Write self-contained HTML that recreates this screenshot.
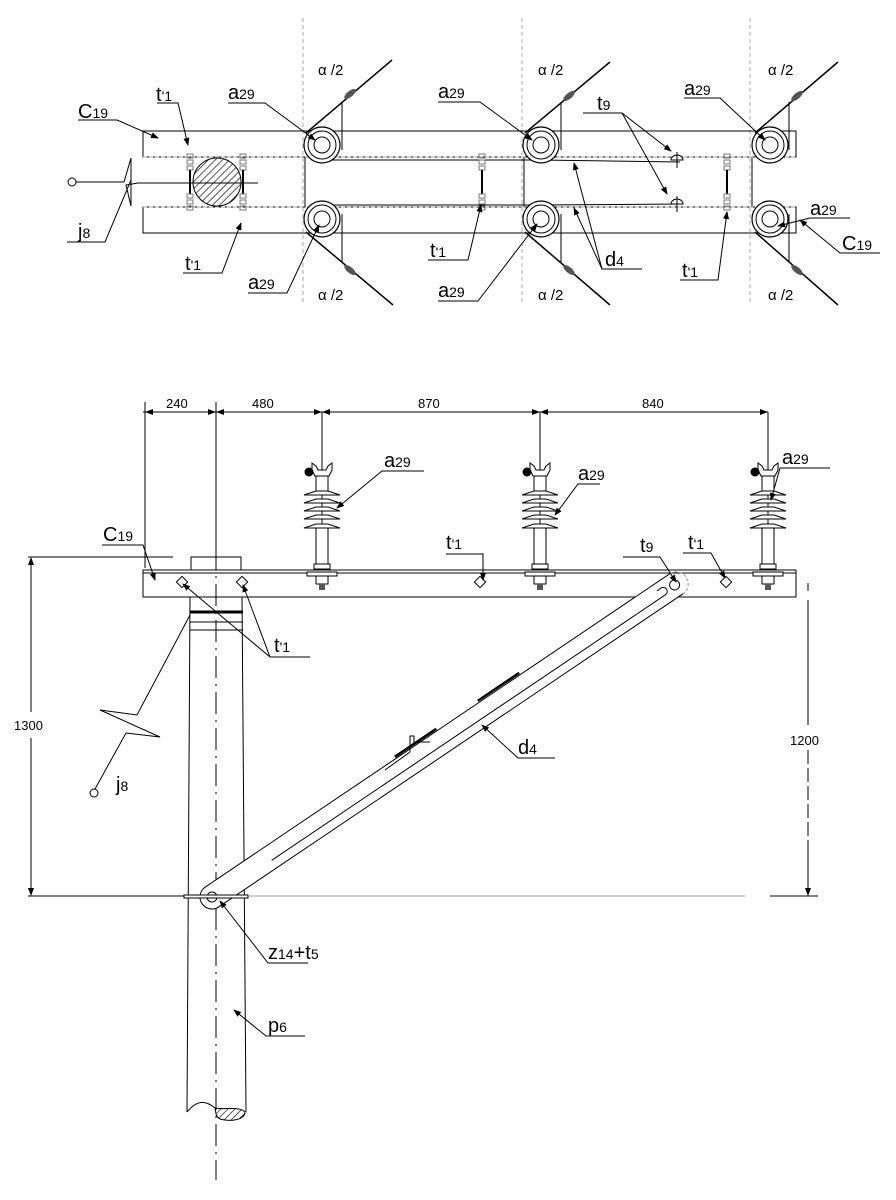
<!DOCTYPE html>
<html><head><meta charset="utf-8"><style>
html,body{margin:0;padding:0;background:#fff;}
svg{display:block;font-family:"Liberation Sans",sans-serif;}
</style></head><body>
<svg width="896" height="1200" viewBox="0 0 896 1200" xmlns="http://www.w3.org/2000/svg">
<defs>
<pattern id="h" patternUnits="userSpaceOnUse" width="5" height="5" patternTransform="rotate(45)">
<line x1="0" y1="0" x2="0" y2="5" stroke="#000" stroke-width="1.3"/></pattern>
<marker id="ar" markerWidth="8" markerHeight="6" refX="7" refY="3" orient="auto" markerUnits="userSpaceOnUse"><path d="M0,0 L8,3 L0,6z" fill="#000"/></marker>
<g id="ins">
<line x1="0" y1="412" x2="0" y2="570" stroke="#000" stroke-width="1"/>
<path d="M-10,463 L-6,466 L-4,470 L4,470 L6,466 L10,463 L10,470 L7,476 L-7,476 L-10,470z" fill="#fff" stroke="#000"/>
<circle cx="-13" cy="472" r="4.5" fill="#000"/>
<rect x="-6" y="476" width="12" height="16" fill="#fff" stroke="#000"/>
<g stroke="#000" fill="#fff">
<path d="M-18,495 L18,495 L6,491 L-6,491z"/><path d="M-18,503 L18,503 L6,499 L-6,499z"/><path d="M-18,511 L18,511 L6,507 L-6,507z"/><path d="M-18,519 L18,519 L6,515 L-6,515z"/><path d="M-18,528 L18,528 L6,524 L-6,524z"/>
</g>
<rect x="-6" y="528" width="12" height="36" fill="#fff" stroke="#000"/>
<rect x="-8" y="564" width="16" height="5" fill="#fff" stroke="#000"/>
<rect x="-15" y="572" width="30" height="4" fill="#fff" stroke="#000"/>
<rect x="-6" y="576" width="12" height="8" fill="#fff" stroke="#000"/>
<rect x="-3" y="584" width="6" height="6" fill="#555"/>
</g>
<g id="circ">
<circle r="18" fill="#fff" stroke="#000" stroke-width="1.2"/><circle r="14" fill="none" stroke="#000"/><circle r="8" fill="none" stroke="#000"/>
</g>
<g id="bolt" stroke="#777" fill="none" stroke-width="1">
<rect x="-3" y="-28" width="6" height="4"/><rect x="-3" y="-22" width="6" height="4"/><rect x="-3" y="-16" width="6" height="4"/>
<line x1="0" y1="-12" x2="0" y2="12" stroke="#000" stroke-width="2"/>
<rect x="-3" y="12" width="6" height="4"/><rect x="-3" y="18" width="6" height="4"/><rect x="-3" y="24" width="6" height="4"/>
</g>
</defs>

<g stroke="#aaa" stroke-dasharray="4,3" stroke-width="1">
<line x1="303" y1="18" x2="303" y2="305"/><line x1="522" y1="18" x2="522" y2="305"/><line x1="750" y1="18" x2="750" y2="305"/>
</g>
<g stroke="#000" fill="none" stroke-width="1">
<rect x="143" y="131" width="653" height="26" fill="none"/>
<rect x="143" y="207" width="653" height="26" fill="none"/>
<line x1="305" y1="157" x2="305" y2="207"/><line x1="524" y1="157" x2="524" y2="207"/><line x1="752" y1="157" x2="752" y2="207"/>
<line x1="540" y1="160" x2="680" y2="162"/><line x1="540" y1="205" x2="680" y2="204"/>
<line x1="322" y1="160" x2="540" y2="160"/><line x1="322" y1="205" x2="540" y2="205"/>
</g>
<g stroke="#aaa" stroke-dasharray="4,2"><line x1="143" y1="157" x2="796" y2="157"/><line x1="143" y1="207" x2="796" y2="207"/></g>
<circle cx="217" cy="182" r="24" fill="url(#h)" stroke="#000"/>
<line x1="138" y1="183" x2="258" y2="183" stroke="#000"/>
<g transform="translate(190,182)"><use href="#bolt"/></g>
<g transform="translate(243,182)"><use href="#bolt"/></g>
<g transform="translate(482,182)"><use href="#bolt"/></g>
<g transform="translate(727,182)"><use href="#bolt"/></g>
<path d="M677,152 v16 M671,160 a6,5 0 0 1 12,0z M677,196 v16 M671,204 a6,5 0 0 1 12,0z" stroke="#000" fill="#fff"/>
<g stroke="#000" stroke-width="1.5">
<line x1="306" y1="133" x2="392" y2="60"/><line x1="525" y1="133" x2="610" y2="62"/><line x1="755" y1="133" x2="838" y2="62"/>
<line x1="306" y1="232" x2="393" y2="305"/><line x1="525" y1="232" x2="610" y2="305"/><line x1="755" y1="232" x2="838" y2="305"/>
</g>
<g stroke="#000" stroke-width="1">
<line x1="342" y1="102" x2="342" y2="150"/><line x1="561" y1="102" x2="561" y2="150"/><line x1="789" y1="102" x2="789" y2="150"/>
<line x1="342" y1="214" x2="342" y2="262"/><line x1="561" y1="214" x2="561" y2="262"/><line x1="789" y1="214" x2="789" y2="262"/>
</g>
<g fill="#555"><ellipse cx="350" cy="94" rx="7" ry="3" transform="rotate(-40 350 94)"/><ellipse cx="569" cy="96" rx="7" ry="3" transform="rotate(-40 569 96)"/><ellipse cx="797" cy="96" rx="7" ry="3" transform="rotate(-40 797 96)"/>
<ellipse cx="350" cy="270" rx="7" ry="3" transform="rotate(40 350 270)"/><ellipse cx="569" cy="270" rx="7" ry="3" transform="rotate(40 569 270)"/><ellipse cx="797" cy="270" rx="7" ry="3" transform="rotate(40 797 270)"/></g>
<use href="#circ" x="322" y="145"/><use href="#circ" x="541" y="145"/><use href="#circ" x="770" y="145"/>
<use href="#circ" x="322" y="219"/><use href="#circ" x="541" y="219"/><use href="#circ" x="770" y="219"/>

<g stroke="#000" fill="none" stroke-width="1">
<circle cx="72" cy="182" r="4"/><line x1="76" y1="182" x2="124" y2="182"/>
<path d="M124,182 L131,158 L131,206 L126,185 L138,183"/>
<polyline points="67,242 105,242 131,180"/>
<polyline points="78,120 117,120 158,138" marker-end="url(#ar)"/>
<polyline points="157,103 178,103 188,145" marker-end="url(#ar)"/>
<polyline points="228,103 265,103 315,140" marker-end="url(#ar)"/>
<polyline points="183,273 222,273 241,223" marker-end="url(#ar)"/>
<polyline points="248,293 287,293 319,225" marker-end="url(#ar)"/>
<polyline points="438,102 480,102 532,140" marker-end="url(#ar)"/>
<polyline points="428,260 468,260 481,205" marker-end="url(#ar)"/>
<polyline points="438,301 478,301 537,224" marker-end="url(#ar)"/>
<polyline points="583,113 622,113 671,151" marker-end="url(#ar)"/>
<line x1="622" y1="113" x2="667" y2="194" marker-end="url(#ar)"/>
<polyline points="642,269 602,269 574,163" marker-end="url(#ar)"/>
<line x1="602" y1="269" x2="574" y2="208" marker-end="url(#ar)"/>
<polyline points="680,280 718,280 727,212" marker-end="url(#ar)"/>
<polyline points="684,98 720,98 765,140" marker-end="url(#ar)"/>
<polyline points="850,218 810,218 778,226" marker-end="url(#ar)"/>
<polyline points="880,253 840,253 800,220" marker-end="url(#ar)"/>
</g>
<g font-size="20" fill="#000">
<text x="78" y="118">C<tspan font-size="14">19</tspan></text>
<text x="156" y="101">t<tspan font-size="14">'1</tspan></text>
<text x="228" y="99">a<tspan font-size="14">29</tspan></text>
<text x="78" y="238">j<tspan font-size="14">8</tspan></text>
<text x="185" y="270">t<tspan font-size="14">'1</tspan></text>
<text x="248" y="289">a<tspan font-size="14">29</tspan></text>
<text x="438" y="98">a<tspan font-size="14">29</tspan></text>
<text x="430" y="257">t<tspan font-size="14">'1</tspan></text>
<text x="438" y="297">a<tspan font-size="14">29</tspan></text>
<text x="597" y="110">t<tspan font-size="14">9</tspan></text>
<text x="605" y="266">d<tspan font-size="14">4</tspan></text>
<text x="682" y="277">t<tspan font-size="14">'1</tspan></text>
<text x="684" y="95">a<tspan font-size="14">29</tspan></text>
<text x="810" y="215">a<tspan font-size="14">29</tspan></text>
<text x="842" y="250">C<tspan font-size="14">19</tspan></text>
</g>
<g font-size="15" fill="#000">
<text x="318" y="75">α /2</text><text x="538" y="75">α /2</text><text x="768" y="75">α /2</text>
<text x="318" y="300">α /2</text><text x="538" y="300">α /2</text><text x="768" y="300">α /2</text>
</g>

<!-- front view -->
<g stroke="#000" stroke-width="1" fill="none">
<line x1="145" y1="402" x2="145" y2="568"/><line x1="216" y1="402" x2="216" y2="557"/>
<line x1="143" y1="412" x2="768" y2="412"/>
</g>
<g stroke="#000" fill="none" marker-end="url(#ar)">
<line x1="180" y1="412" x2="146" y2="412"/><line x1="180" y1="412" x2="215" y2="412"/>
<line x1="270" y1="412" x2="217" y2="412"/><line x1="270" y1="412" x2="321" y2="412"/>
<line x1="430" y1="412" x2="323" y2="412"/><line x1="430" y1="412" x2="539" y2="412"/>
<line x1="650" y1="412" x2="541" y2="412"/><line x1="650" y1="412" x2="767" y2="412"/>
</g>
<g font-size="13" fill="#000"><text x="166" y="408">240</text><text x="252" y="408">480</text><text x="418" y="408">870</text><text x="642" y="408">840</text></g>

<path d="M187,1112 L190,597 L242,597 L246,1112" fill="#fff" stroke="#000"/>
<rect x="191" y="557" width="50" height="13" fill="#fff" stroke="#000"/>
<line x1="190" y1="612" x2="243" y2="612" stroke="#000" stroke-width="3"/>
<line x1="190" y1="622" x2="243" y2="622" stroke="#000"/><line x1="190" y1="630" x2="243" y2="630" stroke="#000"/>
<path d="M187,1112 C197,1100 205,1100 215,1108" stroke="#000" fill="none"/>
<path d="M215,1108 C225,1110 240,1106 245,1112 C245,1120 230,1122 220,1119 C215,1116 216,1112 215,1108z" fill="url(#h)" stroke="#000"/>
<rect x="143" y="570" width="653" height="27" fill="#fff" stroke="#000"/>
<line x1="143" y1="573" x2="796" y2="573" stroke="#000"/>
<line x1="216" y1="440" x2="216" y2="1180" stroke="#000" stroke-dasharray="22,6,2,6"/>
<g fill="#fff" stroke="#000">
<rect x="178" y="578" width="8" height="8" transform="rotate(45 182 582)"/>
<rect x="238" y="578" width="8" height="8" transform="rotate(45 242 582)"/>
<rect x="476" y="578" width="8" height="8" transform="rotate(45 480 582)"/>
<rect x="722" y="578" width="8" height="8" transform="rotate(45 726 582)"/>
</g>
<use href="#ins" x="322"/><use href="#ins" x="540"/><use href="#ins" x="768"/>
<line x1="808" y1="583" x2="808" y2="591" stroke="#000"/>

<!-- brace -->
<g transform="translate(212,897) rotate(-34)" stroke="#000" fill="none">
<path d="M560,-12 L0,-12 A12,12 0 0 0 0,12 L560,12" fill="#fff"/>
<path d="M560,-12 A12,12 0 0 1 560,12" stroke="#999" stroke-dasharray="3,2"/>
<line x1="70" y1="3" x2="545" y2="3"/>
<path d="M545,3 A4,4 0 0 0 545,-5 L 540,-5"/>
<circle cx="0" cy="0" r="5"/><circle cx="558" cy="0" r="5"/>
<path d="M230,-14 L280,-14" stroke-width="2.5"/><path d="M330,-14 L380,-14" stroke-width="2.5"/>
</g>
<path d="M385,770 L410,752 L410,736 L414,736 L414,742 L430,742" stroke="#000" fill="none"/>
<rect x="184" y="895" width="64" height="3" fill="#fff" stroke="#000"/>

<!-- dimensions -->
<g stroke="#000" fill="none">
<line x1="28" y1="557" x2="173" y2="557"/>
<line x1="28" y1="896" x2="184" y2="896"/>
<line x1="248" y1="896" x2="745" y2="896" stroke="#999"/>
<line x1="770" y1="896" x2="818" y2="896"/>
<line x1="31" y1="600" x2="31" y2="558" marker-end="url(#ar)"/>
<line x1="31" y1="850" x2="31" y2="895" marker-end="url(#ar)"/>
<line x1="31" y1="600" x2="31" y2="712"/><line x1="31" y1="738" x2="31" y2="850"/>
<line x1="808" y1="600" x2="808" y2="725"/><line x1="808" y1="750" x2="808" y2="895" stroke-dasharray="14,4"/>
<line x1="808" y1="850" x2="808" y2="895" marker-end="url(#ar)"/>
</g>
<g font-size="13" fill="#000"><text x="14" y="730">1300</text><text x="790" y="745">1200</text></g>

<!-- leaders front -->
<g stroke="#000" fill="none">
<polyline points="102,545 143,545 155,580" marker-end="url(#ar)"/>
<polyline points="310,657 270,657 183,584" marker-end="url(#ar)"/>
<line x1="270" y1="657" x2="243" y2="585" marker-end="url(#ar)"/>
<polyline points="446,554 483,554 483,580" marker-end="url(#ar)"/>
<polyline points="623,557 660,557 676,582" marker-end="url(#ar)"/>
<polyline points="683,553 711,553 725,578" marker-end="url(#ar)"/>
<polyline points="424,471 382,471 337,508" marker-end="url(#ar)"/>
<polyline points="600,484 578,484 555,515" marker-end="url(#ar)"/>
<polyline points="830,468 780,468 771,500" marker-end="url(#ar)"/>
<polyline points="555,758 518,758 482,725" marker-end="url(#ar)"/>
<polyline points="308,963 268,963 220,901" marker-end="url(#ar)"/>
<polyline points="305,1036 266,1036 234,1010" marker-end="url(#ar)"/>
<polyline points="190,615 137,715 100,710 160,737 126,733 95,789"/>
<circle cx="94" cy="793" r="4"/>
</g>
<g font-size="20" fill="#000">
<text x="103" y="541">C<tspan font-size="14">19</tspan></text>
<text x="274" y="652">t<tspan font-size="14">'1</tspan></text>
<text x="446" y="549">t<tspan font-size="14">'1</tspan></text>
<text x="640" y="552">t<tspan font-size="14">9</tspan></text>
<text x="688" y="549">t<tspan font-size="14">'1</tspan></text>
<text x="384" y="467">a<tspan font-size="14">29</tspan></text>
<text x="578" y="480">a<tspan font-size="14">29</tspan></text>
<text x="782" y="464">a<tspan font-size="14">29</tspan></text>
<text x="518" y="754">d<tspan font-size="14">4</tspan></text>
<text x="268" y="959">z<tspan font-size="14">14</tspan>+t<tspan font-size="14">5</tspan></text>
<text x="268" y="1032">p<tspan font-size="14">6</tspan></text>
<text x="116" y="791">j<tspan font-size="14">8</tspan></text>
</g>
</svg>
</body></html>
